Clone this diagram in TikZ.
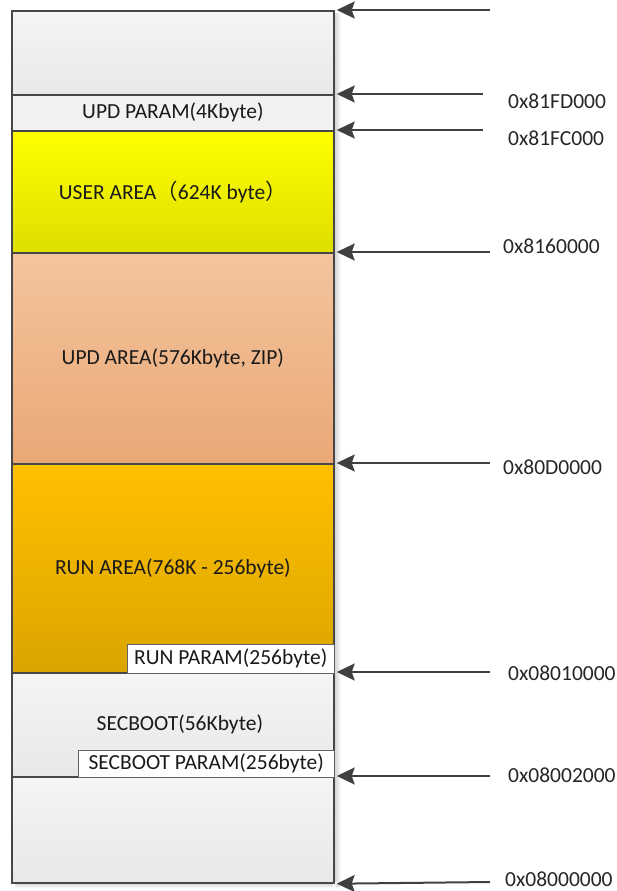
\documentclass[tikz,border=0pt]{standalone}
\usepackage{fontspec}
\setmainfont{Carlito}
\newfontfamily\cjkfont{Noto Sans CJK SC}
\usetikzlibrary{arrows.meta}
\definecolor{edge}{HTML}{474747}
\definecolor{arrowc}{HTML}{404040}
\definecolor{txt}{HTML}{1A1A1A}
\begin{document}
\begin{tikzpicture}[x=1pt,y=-1pt,
  font=\fontsize{21.5}{25}\selectfont, text=txt,
  region/.style={draw=edge, line width=1.7pt, minimum width=322pt, inner sep=0pt, anchor=north west},
  graybox/.style={region, top color=white!96!black, bottom color=white!91!black},
  subbox/.style={draw=edge!85, line width=1pt, fill=white, inner sep=0pt, anchor=south east},
  addr/.style={anchor=west, inner sep=0pt, text=black!85},
  arr/.style={draw=arrowc, line width=2pt, -{Stealth[length=18pt, width=17pt, inset=3pt]}}]
\useasboundingbox (0,0) rectangle (616,891);
% soft shadow of the column
\shade[left color=black!22, right color=white] (333,14) rectangle (341,882);
\shade[top color=black!22, bottom color=white] (15,882) rectangle (333,888);
\shade[inner color=black!18, outer color=white] (333,882) rectangle (341,888);
% regions
\node[graybox, minimum height=84pt] (topr) at (11,10) {};
\node[region, minimum height=36pt, fill=white!95!black] (updparam) at (11,94) {UPD PARAM(4Kbyte)};
\node[region, minimum height=122pt, top color=yellow, bottom color={rgb,255:red,222;green,222;blue,0}] (user) at (11,130) {USER AREA{\cjkfont （}624K byte{\cjkfont ）}};
\node[region, minimum height=211pt, top color={rgb,255:red,243;green,196;blue,158}, bottom color={rgb,255:red,234;green,168;blue,118}] (updarea) at (11,252) {UPD AREA(576Kbyte, ZIP)};
\node[region, minimum height=209pt, top color={rgb,255:red,255;green,192;blue,0}, bottom color={rgb,255:red,219;green,165;blue,0}] (run) at (11,463) {RUN AREA(768K - 256byte)};
\node[graybox, minimum height=104pt] (secboot) at (11,672) {\hspace*{14pt}SECBOOT(56Kbyte)};
\node[graybox, minimum height=106pt] (bottomr) at (11,776) {};
% parameter boxes
\node[subbox, minimum width=207pt, minimum height=29pt] (runparam) at (run.south east) {RUN PARAM(256byte)};
\node[subbox, minimum width=256pt, minimum height=27pt] (secparam) at (secboot.south east) {SECBOOT PARAM(256byte)};
% arrow start points
\coordinate (s1) at (490,10);
\coordinate (s2) at (483,94);
\coordinate (s3) at (483,130);
\coordinate (s4) at (490,252);
\coordinate (s5) at (490,463);
\coordinate (s6) at (490,672);
\coordinate (s7) at (490,776);
\coordinate (s8) at (490,882);
\draw[arr] (s1) -- ([xshift=2pt]topr.north east);
\draw[arr] (s2) -- ([xshift=2pt]updparam.north east);
\draw[arr] (s3) -- ([xshift=2pt]user.north east);
\draw[arr] (s4) -- ([xshift=2pt]updarea.north east);
\draw[arr] (s5) -- ([xshift=2pt]run.north east);
\draw[arr] (s6) -- ([xshift=2pt]secboot.north east);
\draw[arr] (s7) -- ([xshift=2pt]bottomr.north east);
\draw[arr] (s8) -- ([xshift=2pt]bottomr.south east);
% address labels
\node[addr] (l2) at (508,101) {0x81FD000};
\node[addr] (l3) at (508,138) {0x81FC000};
\node[addr] (l4) at (503,246) {0x8160000};
\node[addr] (l5) at (503,467) {0x80D0000};
\node[addr] (l6) at (508,673) {0x08010000};
\node[addr] (l7) at (508,775) {0x08002000};
\node[addr] (l8) at (505,879) {0x08000000};
\end{tikzpicture}
\end{document}
